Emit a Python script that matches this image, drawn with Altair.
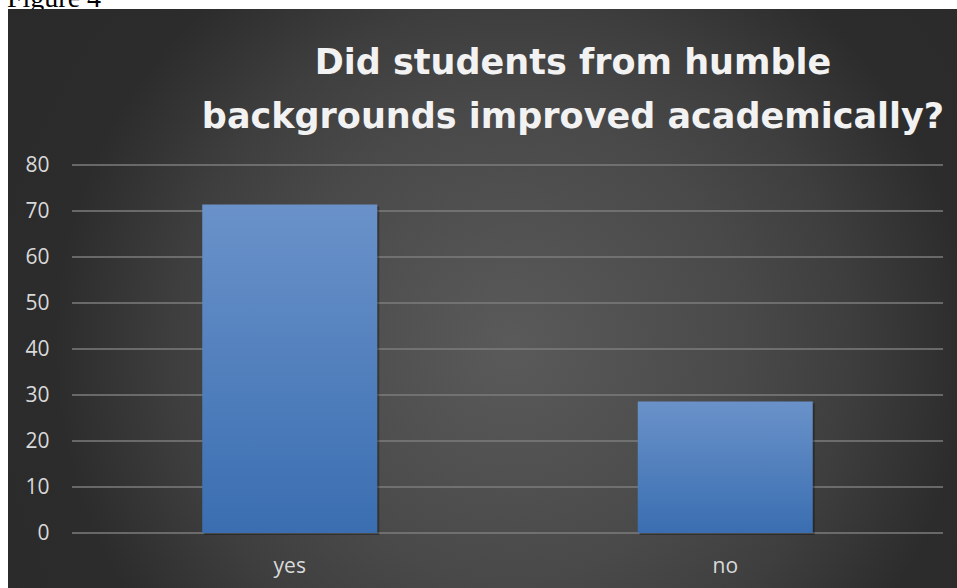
import altair as alt
import pandas as pd

# Survey answers and their shares (percent)
categories = ["yes", "no"]
values = [71.4, 28.6]
y_ticks = [0, 10, 20, 30, 40, 50, 60, 70, 80]
title_lines = ["Did students from humble", "backgrounds improved academically?"]
caption = "Figure 4"

bars_df = pd.DataFrame({"answer": categories, "percent": values})
ticks_df = pd.DataFrame({"percent": y_ticks})
one_row = pd.DataFrame({"k": [0]})

PLOT_W, PLOT_H = 871, 368
PAD = {"left": 72, "top": 165, "right": 14, "bottom": 55}

y_scale = alt.Scale(domain=[0, 80], nice=False)
x_scale = alt.Scale(paddingInner=0, paddingOuter=0)
label_color = "#d9d9d9"

x_axis = alt.Axis(
    title=None, labelAngle=0, ticks=False, domain=False, grid=False,
    labelColor=label_color, labelFont="Open Sans", labelFontSize=21,
    labelPadding=39, labelBaseline="alphabetic", zindex=1,
)
y_axis = alt.Axis(
    title=None, values=y_ticks, ticks=False, domain=False, grid=False,
    labelColor=label_color, labelFont="Open Sans", labelFontSize=21,
    labelPadding=23, zindex=1,
)

# Dark panel with a soft radial highlight
panel_fill = {
    "gradient": "radial",
    "x1": 0.53, "y1": 0.55, "r1": 0,
    "x2": 0.53, "y2": 0.55, "r2": 0.65,
    "stops": [
        {"offset": 0.0, "color": "#5a5a5a"},
        {"offset": 0.38, "color": "#494949"},
        {"offset": 0.55, "color": "#3e3e3e"},
        {"offset": 0.74, "color": "#2c2c2c"},
        {"offset": 1.0, "color": "#2a2a2a"},
    ],
}

bar_fill = {
    "gradient": "linear",
    "x1": 0, "y1": 0, "x2": 0, "y2": 1,
    "stops": [
        {"offset": 0.0, "color": "#6a92c9"},
        {"offset": 1.0, "color": "#3a6eb1"},
    ],
}

caption_text = alt.Chart(one_row).mark_text(
    text=caption, font="Liberation Serif", fontSize=28, color="black",
    align="left", baseline="alphabetic",
).encode(x=alt.value(-65), y=alt.value(-158.5))

panel = alt.Chart(one_row).mark_rect(color=panel_fill).encode(
    x=alt.value(8 - PAD["left"]),
    x2=alt.value(957 - PAD["left"]),
    y=alt.value(9 - PAD["top"]),
    y2=alt.value(588 - PAD["top"]),
)

grid = alt.Chart(ticks_df).mark_rule(color="#7c7c7c", strokeWidth=1.6).encode(
    y=alt.Y("percent:Q", scale=y_scale, axis=y_axis),
    x=alt.value(0),
    x2=alt.value(PLOT_W),
)

x_enc = alt.X("answer:N", sort=categories, scale=x_scale, axis=x_axis)
y_enc = alt.Y("percent:Q", scale=y_scale, axis=y_axis)

bar_shadow = alt.Chart(bars_df).mark_bar(
    size=175, color="#000000", opacity=0.3, xOffset=2, yOffset=2,
).encode(x=x_enc, y=y_enc)

bars = alt.Chart(bars_df).mark_bar(size=175, color=bar_fill).encode(x=x_enc, y=y_enc)

title = alt.Chart(one_row).mark_text(
    text=title_lines, lineHeight=54, font="DejaVu Sans", fontWeight="bold",
    fontSize=35, align="center", baseline="alphabetic", color="#f2f2f2",
).encode(x=alt.value(501), y=alt.value(-91.5))

chart = alt.layer(
    caption_text, panel, grid, bar_shadow, bars, title
).properties(
    width=PLOT_W,
    height=PLOT_H,
    padding=PAD,
    autosize=alt.AutoSizeParams(type="none"),
    background="white",
).configure_view(stroke=None)

chart.save("out.html", embed_options={"renderer": "svg", "actions": False})
